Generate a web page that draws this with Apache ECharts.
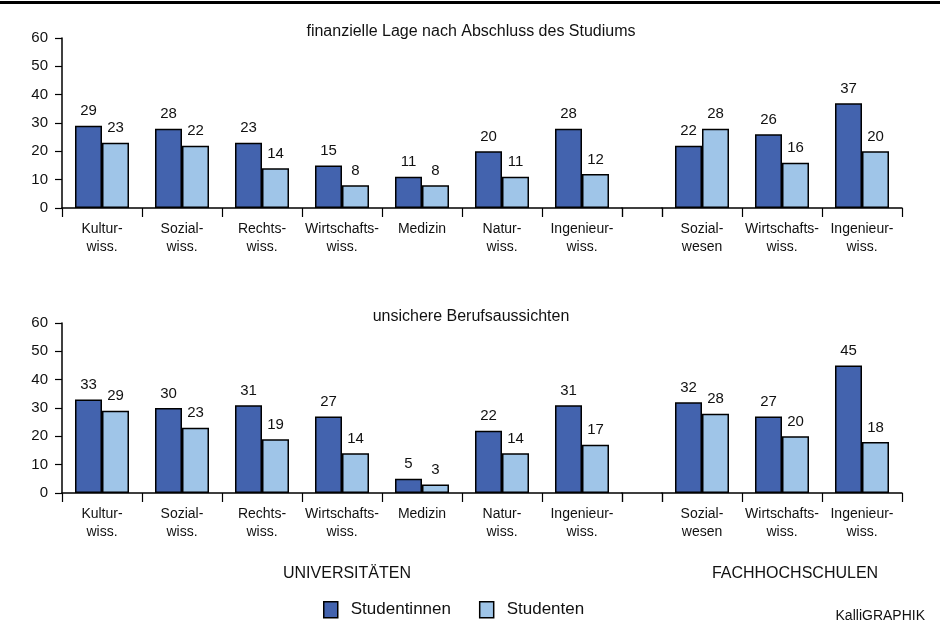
<!DOCTYPE html>
<html>
<head>
<meta charset="utf-8">
<script src="https://cdn.jsdelivr.net/npm/echarts@6.0.0/dist/echarts.min.js"></script>
<style>
  body { margin: 0; background: #fff; }
  #chart { width: 940px; height: 625px; }
</style>
</head>
<body>
<div id="chart"></div>
<script>
// categories
const uniCats = ['Kultur-\nwiss.', 'Sozial-\nwiss.', 'Rechts-\nwiss.', 'Wirtschafts-\nwiss.', 'Medizin', 'Natur-\nwiss.', 'Ingenieur-\nwiss.'];
const fhCats = ['Sozial-\nwesen', 'Wirtschafts-\nwiss.', 'Ingenieur-\nwiss.'];
const gapCats = [''];

// finanzielle Lage nach Abschluss des Studiums
const finUniWomen = [29, 28, 23, 15, 11, 20, 28];
const finUniMen = [23, 22, 14, 8, 8, 11, 12];
const finFhWomen = [22, 26, 37];
const finFhMen = [28, 16, 20];

// unsichere Berufsaussichten
const jobUniWomen = [33, 30, 31, 27, 5, 22, 31];
const jobUniMen = [29, 23, 19, 14, 3, 14, 17];
const jobFhWomen = [32, 27, 45];
const jobFhMen = [28, 20, 18];

const yTicks = { min: 0, max: 60, interval: 10 };

const DARK = '#4363ae';
const LIGHT = '#9fc5e8';
const FONT = '"Liberation Sans", Arial, sans-serif';

const panels = [
  { top: 38, title: 'finanzielle Lage nach Abschluss des Studiums', titleTop: 19,
    uni: [finUniWomen, finUniMen], fh: [finFhWomen, finFhMen] },
  { top: 323, title: 'unsichere Berufsaussichten', titleTop: 304,
    uni: [jobUniWomen, jobUniMen], fh: [jobFhWomen, jobFhMen] }
];

const grids = [], xAxes = [], yAxes = [], series = [];

function xAxisFor(gridIndex, cats) {
  return {
    type: 'category', gridIndex: gridIndex, data: cats,
    axisLine: { show: true, lineStyle: { color: '#000', width: 1.5 } },
    axisTick: { show: true, length: 9, alignWithLabel: false, lineStyle: { color: '#000', width: 1.2 } },
    axisLabel: { color: '#111', fontFamily: FONT, fontSize: 14, lineHeight: 18, margin: 12, interval: 0 }
  };
}

function yAxisFor(gridIndex, show) {
  return {
    type: 'value', gridIndex: gridIndex, show: show,
    min: yTicks.min, max: yTicks.max, interval: yTicks.interval,
    splitLine: { show: false },
    axisLine: { show: true, lineStyle: { color: '#000', width: 1.5 } },
    axisTick: { show: true, length: 7, lineStyle: { color: '#000', width: 1.2 } },
    axisLabel: { color: '#111', fontFamily: FONT, fontSize: 15, margin: 14 }
  };
}

function barSeries(name, color, axisIndex, values) {
  return {
    type: 'bar', name: name, xAxisIndex: axisIndex, yAxisIndex: axisIndex,
    data: values, barWidth: 27, barGap: '0%',
    itemStyle: { color: color, borderColor: '#000', borderWidth: 1.5 },
    label: { show: true, position: 'top', distance: 7, color: '#111', fontFamily: FONT, fontSize: 15 }
  };
}

panels.forEach(function (p) {
  // universities, gap, Fachhochschulen
  const parts = [
    { left: 62, width: 560, cats: uniCats, data: p.uni, yShow: true },
    { left: 622, width: 40, cats: gapCats, data: null, yShow: false },
    { left: 662, width: 240, cats: fhCats, data: p.fh, yShow: false }
  ];
  parts.forEach(function (part) {
    const idx = grids.length;
    grids.push({ left: part.left, width: part.width, top: p.top, height: 170 });
    xAxes.push(xAxisFor(idx, part.cats));
    yAxes.push(yAxisFor(idx, part.yShow));
    if (part.data) {
      series.push(barSeries('Studentinnen', DARK, idx, part.data[0]));
      series.push(barSeries('Studenten', LIGHT, idx, part.data[1]));
    }
  });
});

const titles = panels.map(function (p) {
  return { text: p.title, left: 466, top: p.titleTop, textAlign: 'center',
    textStyle: { fontFamily: FONT, fontSize: 16, fontWeight: 'normal', color: '#111' } };
});
titles.push({ text: 'UNIVERSITÄTEN', left: 342, top: 561, textAlign: 'center',
  textStyle: { fontFamily: FONT, fontSize: 16, fontWeight: 'normal', color: '#111' } });
titles.push({ text: 'FACHHOCHSCHULEN', left: 790, top: 561, textAlign: 'center',
  textStyle: { fontFamily: FONT, fontSize: 16, fontWeight: 'normal', color: '#111' } });
titles.push({ text: 'KalliGRAPHIK', right: 10, top: 604,
  textStyle: { fontFamily: FONT, fontSize: 14, fontWeight: 'normal', color: '#111' } });

const option = {
  animation: false,
  title: titles,
  legend: {
    data: ['Studentinnen', 'Studenten'],
    top: 596, left: 318,
    itemWidth: 14, itemHeight: 16, itemGap: 28,
    icon: 'rect',
    itemStyle: { borderColor: '#000', borderWidth: 1.5 },
    textStyle: { fontFamily: FONT, fontSize: 17, color: '#111', padding: [0, 0, 0, 8] }
  },
  graphic: [{
    type: 'rect', shape: { x: 0, y: 1, width: 940, height: 3 },
    style: { fill: '#000' }
  }],
  grid: grids,
  xAxis: xAxes,
  yAxis: yAxes,
  series: series
};

const myChart = echarts.init(document.getElementById('chart'));
myChart.setOption(option);
</script>
</body>
</html>
